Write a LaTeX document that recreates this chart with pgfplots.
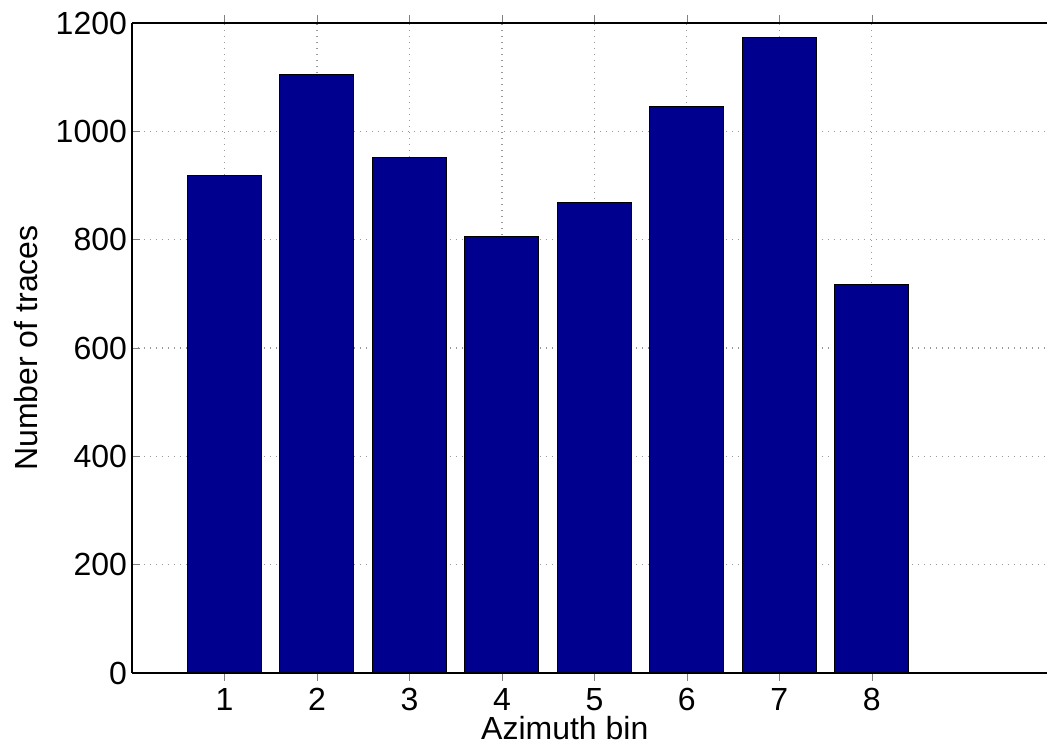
\documentclass[border=0pt]{standalone}
\usepackage{pgfplots}
\pgfplotsset{compat=1.18}
\usepackage{fontspec}
\setmainfont{Liberation Sans}
\definecolor{barblue}{RGB}{0,0,143}
\begin{document}
\begin{tikzpicture}
\begin{axis}[
  scale only axis,
  width=457.5pt, height=325pt,
  xmin=0, xmax=9.894, ymin=0, ymax=1200,
  axis x line*=box, axis y line*=left,
  xtick={1,2,3,4,5,6,7,8},
  ytick={0,200,400,600,800,1000,1200},
  tick align=inside,
  major tick length=4pt,
  grid=major,
  major grid style={dash pattern=on 0.6pt off 2.4pt, gray!80, line width=0.6pt},
  axis line style={line width=0.6pt},
  font=\fontsize{16}{19}\selectfont,
  ticklabel style={font=\fontsize{16}{19}\selectfont},
  yticklabel style={xshift=1pt},
  /pgf/number format/assume math mode=true,
  /pgf/number format/1000 sep={},
  xlabel={Azimuth bin},
  ylabel={Number of traces},
  xlabel style={at={(axis description cs:0.473,-0.103)}, anchor=base},
  ylabel style={at={(axis description cs:-0.1157,0.5)}, anchor=center},
  ybar, bar width=0.8, bar shift=0pt,
]
\addplot[fill=barblue, draw=black, line width=0.5pt] coordinates {
(1,919) (2,1104) (3,951) (4,805) (5,868) (6,1046) (7,1174) (8,718)};
\coordinate (sw) at (rel axis cs:0,0);
\coordinate (ne) at (rel axis cs:1,1);
\end{axis}
\pgfresetboundingbox
\path[use as bounding box] ([shift={(-66pt,-37.5pt)}]sw) rectangle ([shift={(0pt,11.5pt)}]ne);
\end{tikzpicture}
\end{document}
